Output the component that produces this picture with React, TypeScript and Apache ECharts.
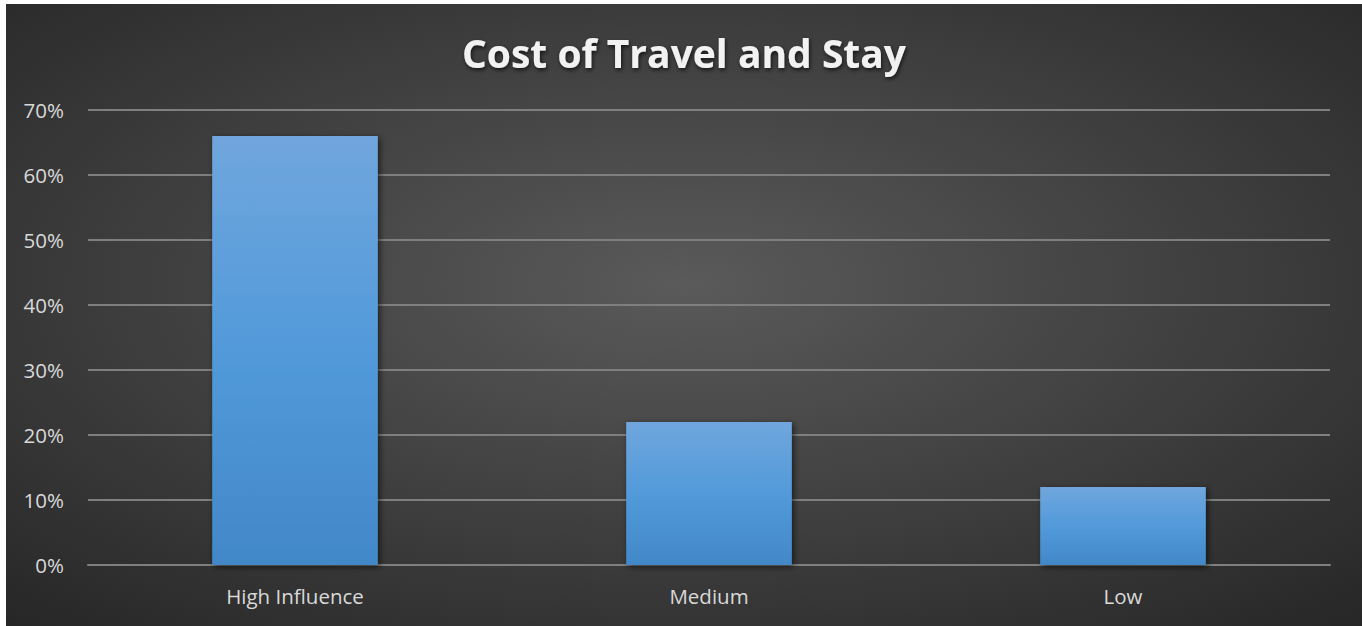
import React, { useEffect, useRef } from "react";
import * as echarts from "echarts";

const categories = ["High Influence", "Medium", "Low"];
const values = [0.66, 0.22, 0.12];
const titleText = "Cost of Travel and Stay";

export default function App() {
  const ref = useRef<HTMLDivElement>(null);
  useEffect(() => {
    if (!ref.current) return;
    const chart = echarts.init(ref.current, undefined, { renderer: "svg" });
    chart.setOption({
      animation: false,
      backgroundColor: {
        type: "radial",
        x: 0.5,
        y: 0.45,
        r: 0.75,
        colorStops: [
          { offset: 0, color: "#5a5a5a" },
          { offset: 1, color: "#262626" },
        ],
      },
      title: {
        text: titleText,
        left: "center",
        top: 24,
        textStyle: {
          fontFamily: "Open Sans",
          fontWeight: "bold",
          fontSize: 39,
          color: "#f2f2f2",
          textShadowColor: "rgba(0,0,0,0.7)",
          textShadowBlur: 4,
          textShadowOffsetX: 1,
          textShadowOffsetY: 2,
        },
      },
      grid: { left: 82, right: 32, top: 106, bottom: 61, containLabel: false },
      xAxis: {
        type: "category",
        data: categories,
        axisLine: { show: true, lineStyle: { color: "#7f7f7f", width: 2 } },
        axisTick: { show: false },
        axisLabel: {
          color: "#d9d9d9",
          fontSize: 20.5,
          fontFamily: "Open Sans",
          margin: 20,
        },
      },
      yAxis: {
        type: "value",
        min: 0,
        max: 0.7,
        interval: 0.1,
        axisLine: { show: false },
        axisTick: { show: false },
        splitLine: { lineStyle: { color: "#7f7f7f", width: 2 } },
        axisLabel: {
          color: "#d9d9d9",
          fontSize: 20.5,
          fontFamily: "Open Sans",
          margin: 24,
          formatter: (v: number) => Math.round(v * 100) + "%",
        },
      },
      series: [
        {
          type: "bar",
          data: values,
          barCategoryGap: "60%",
          itemStyle: {
            color: {
              type: "linear",
              x: 0,
              y: 0,
              x2: 0,
              y2: 1,
              colorStops: [
                { offset: 0, color: "#70a6dd" },
                { offset: 0.5, color: "#529ada" },
                { offset: 1, color: "#4288c8" },
              ],
            },
            shadowColor: "rgba(0,0,0,0.6)",
            shadowBlur: 6,
            shadowOffsetX: 2,
            shadowOffsetY: 2,
          },
        },
      ],
    });
    return () => chart.dispose();
  }, []);
  return (
    <div
      style={{
        position: "fixed",
        left: 0,
        top: 0,
        width: 1362,
        height: 626,
        background: "#ffffff",
      }}
    >
      <div
        ref={ref}
        style={{ position: "absolute", left: 6, top: 4, width: 1356, height: 622 }}
      />
    </div>
  );
}
